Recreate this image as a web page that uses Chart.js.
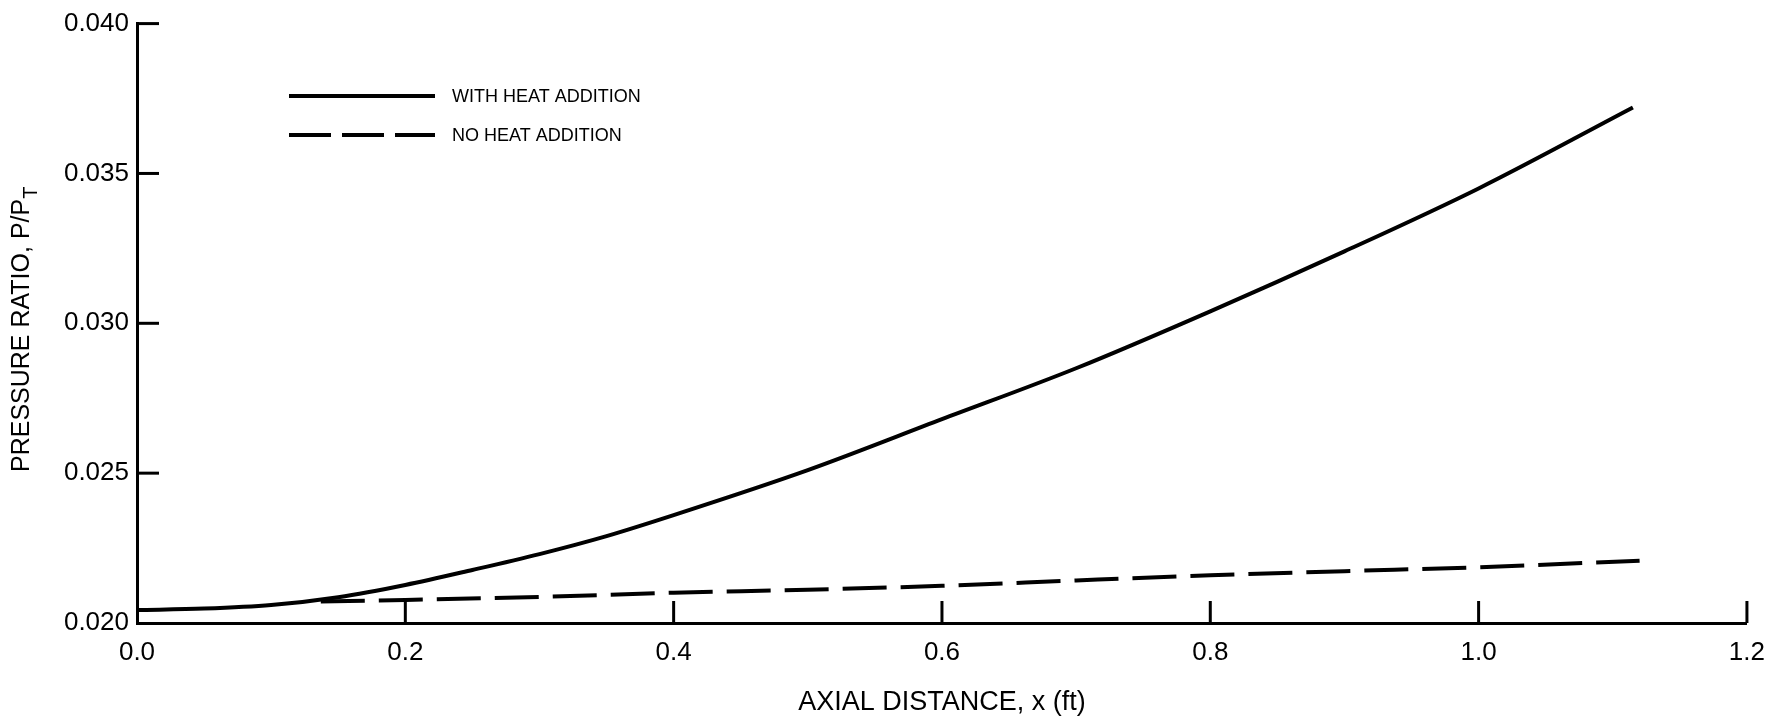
<!DOCTYPE html>
<html>
<head>
<meta charset="utf-8">
<title>Pressure ratio vs axial distance</title>
<script src="https://cdn.jsdelivr.net/npm/chart.js@4.4.1/dist/chart.umd.min.js"></script>
<style>
    html, body { margin: 0; padding: 0; background: #fff; }
    #wrap { width: 1779px; height: 723px; }
</style>
</head>
<body>
<div id="wrap"><canvas id="pressureChart" width="1779" height="723"></canvas></div>
<script>
// Values
const heatX = [0, 0.05, 0.1, 0.15, 0.2, 0.25, 0.3, 0.35, 0.4, 0.5, 0.6, 0.7, 0.8, 0.9, 1.0, 1.115];
const heatY = [0.02043, 0.02048, 0.0206, 0.02086, 0.02127, 0.02177, 0.0223, 0.0229, 0.0236, 0.0251, 0.0268, 0.0285, 0.0304, 0.0324, 0.0345, 0.0372];

const noHeatX = [0.137, 0.2, 0.3, 0.4, 0.5, 0.6, 0.7, 0.8, 0.9, 1.0, 1.12];
const noHeatY = [0.02072, 0.02077, 0.02087, 0.02101, 0.02111, 0.02124, 0.02142, 0.02159, 0.02173, 0.02186, 0.02208];

const xTicks = [0.0, 0.2, 0.4, 0.6, 0.8, 1.0, 1.2];
const yTicks = [0.020, 0.025, 0.030, 0.035, 0.040];

const seriesLabels = ['WITH HEAT ADDITION', 'NO HEAT ADDITION'];
const xTitle = 'AXIAL DISTANCE, x (ft)';
const yTitle = 'PRESSURE RATIO, P/P';
const yTitleSub = 'T';

const FONT = '"Liberation Sans", Arial, Helvetica, sans-serif';

function toPoints(xs, ys) {
    return xs.map((x, i) => ({ x: x, y: ys[i] }));
}

/**
 * Inward tick marks, like the original drafting style
 */
const insideTicks = {
    id: 'insideTicks',
    afterDraw(chart) {
        const { ctx, chartArea, scales } = chart;
        const len = 22;
        ctx.save();
        ctx.strokeStyle = '#000';
        ctx.lineWidth = 3;
        xTicks.forEach(v => {
            if (v === xTicks[0]) return;
            const px = scales.x.getPixelForValue(v);
            ctx.beginPath();
            ctx.moveTo(px, chartArea.bottom);
            ctx.lineTo(px, chartArea.bottom - len);
            ctx.stroke();
        });
        yTicks.forEach(v => {
            if (v === yTicks[0]) return;
            const py = scales.y.getPixelForValue(v);
            ctx.beginPath();
            ctx.moveTo(chartArea.left, py);
            ctx.lineTo(chartArea.left + len, py);
            ctx.stroke();
        });
        ctx.restore();
    }
};

/**
 * Y axis title with subscript T
 */
const yAxisTitle = {
    id: 'yAxisTitle',
    afterDraw(chart) {
        const { ctx, chartArea } = chart;
        const size = 25;
        ctx.save();
        ctx.translate(22, (chartArea.top + chartArea.bottom) / 2 + 6);
        ctx.rotate(-Math.PI / 2);
        ctx.fillStyle = '#000';
        ctx.textBaseline = 'middle';
        ctx.font = size + 'px ' + FONT;
        const w = ctx.measureText(yTitle).width;
        ctx.font = Math.round(size * 0.8) + 'px ' + FONT;
        const ws = ctx.measureText(yTitleSub).width;
        const start = -(w + ws) / 2;
        ctx.font = size + 'px ' + FONT;
        ctx.fillText(yTitle, start, 0);
        ctx.font = Math.round(size * 0.8) + 'px ' + FONT;
        ctx.fillText(yTitleSub, start + w, 9);
        ctx.restore();
    }
};

/**
 * Legend drawn inside the plot, using the dataset line styles
 */
const innerLegend = {
    id: 'innerLegend',
    afterDraw(chart) {
        const { ctx } = chart;
        const x0 = 289, x1 = 435, textX = 452;
        const rows = [96, 135];
        ctx.save();
        ctx.font = '18px ' + FONT;
        ctx.textBaseline = 'middle';
        ctx.fillStyle = '#000';
        chart.data.datasets.forEach((ds, i) => {
            ctx.strokeStyle = ds.borderColor;
            ctx.lineWidth = ds.borderWidth;
            ctx.setLineDash(ds.borderDash.length ? [42, 11] : []);
            ctx.beginPath();
            ctx.moveTo(x0, rows[i]);
            ctx.lineTo(x1, rows[i]);
            ctx.stroke();
            ctx.fillText(ds.label, textX, rows[i] + 1);
        });
        ctx.restore();
    }
};

const ctx = document.getElementById('pressureChart').getContext('2d');
new Chart(ctx, {
    type: 'line',
    data: {
        datasets: [{
            label: seriesLabels[0],
            data: toPoints(heatX, heatY),
            borderColor: '#000',
            borderWidth: 4,
            borderDash: [],
            pointRadius: 0,
            cubicInterpolationMode: 'monotone',
            fill: false
        }, {
            label: seriesLabels[1],
            data: toPoints(noHeatX, noHeatY),
            borderColor: '#000',
            borderWidth: 4,
            borderDash: [44, 14],
            pointRadius: 0,
            cubicInterpolationMode: 'monotone',
            fill: false
        }]
    },
    options: {
        responsive: false,
        animation: false,
        layout: {
            padding: { top: 20, right: 30, left: 0, bottom: 0 }
        },
        plugins: {
            legend: { display: false },
            tooltip: { enabled: false }
        },
        scales: {
            x: {
                type: 'linear',
                min: 0,
                max: 1.2,
                afterFit(scale) { scale.height = 100; },
                afterBuildTicks(scale) { scale.ticks = xTicks.map(v => ({ value: v })); },
                grid: { display: false, drawTicks: false },
                border: { display: true, color: '#000', width: 3 },
                ticks: {
                    color: '#000',
                    font: { family: FONT, size: 26 },
                    padding: 14,
                    maxRotation: 0,
                    callback: v => v.toFixed(1)
                },
                title: {
                    display: true,
                    text: xTitle,
                    color: '#000',
                    font: { family: FONT, size: 27 },
                    padding: { top: 0, bottom: 4 }
                }
            },
            y: {
                type: 'linear',
                min: 0.020,
                max: 0.040,
                afterFit(scale) { scale.width = 137; },
                afterBuildTicks(scale) { scale.ticks = yTicks.map(v => ({ value: v })); },
                grid: { display: false, drawTicks: false },
                border: { display: true, color: '#000', width: 3 },
                ticks: {
                    color: '#000',
                    font: { family: FONT, size: 26 },
                    padding: 8,
                    callback: v => v.toFixed(3)
                }
            }
        }
    },
    plugins: [insideTicks, yAxisTitle, innerLegend]
});
</script>
</body>
</html>
